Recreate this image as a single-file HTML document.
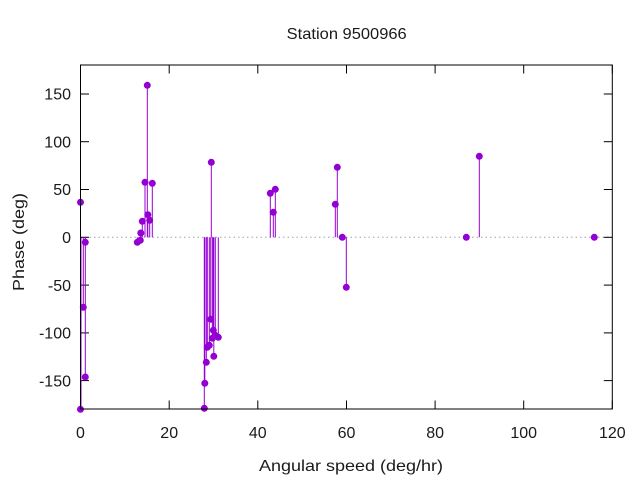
<!DOCTYPE html>
<html><head><meta charset="utf-8"><style>
html,body{margin:0;padding:0;background:#fff;}
svg{display:block;}
text{font-family:"Liberation Sans",sans-serif;font-size:16px;fill:#1a1a1a;}
</style></head><body>
<svg width="640" height="480" viewBox="0 0 640 480" xmlns="http://www.w3.org/2000/svg">
<rect width="640" height="480" fill="#fff"/>
<!-- zero axis -->
<line x1="80.5" y1="237.3" x2="612.3" y2="237.3" stroke="#a0a0a0" stroke-width="1" stroke-dasharray="1.5,3"/>
<!-- ticks -->
<g stroke="#000" stroke-width="1">
<line x1="80.5" y1="409" x2="80.5" y2="400.5"/><line x1="169.2" y1="409" x2="169.2" y2="400.5"/><line x1="257.8" y1="409" x2="257.8" y2="400.5"/><line x1="346.5" y1="409" x2="346.5" y2="400.5"/><line x1="435.1" y1="409" x2="435.1" y2="400.5"/><line x1="523.7" y1="409" x2="523.7" y2="400.5"/><line x1="612.3" y1="409" x2="612.3" y2="400.5"/>
<line x1="80.5" y1="65" x2="80.5" y2="73.5"/><line x1="169.2" y1="65" x2="169.2" y2="73.5"/><line x1="257.8" y1="65" x2="257.8" y2="73.5"/><line x1="346.5" y1="65" x2="346.5" y2="73.5"/><line x1="435.1" y1="65" x2="435.1" y2="73.5"/><line x1="523.7" y1="65" x2="523.7" y2="73.5"/><line x1="612.3" y1="65" x2="612.3" y2="73.5"/>
<line x1="80.5" y1="94" x2="89" y2="94"/><line x1="80.5" y1="141.7" x2="89" y2="141.7"/><line x1="80.5" y1="189.5" x2="89" y2="189.5"/><line x1="80.5" y1="237.3" x2="89" y2="237.3"/><line x1="80.5" y1="285.1" x2="89" y2="285.1"/><line x1="80.5" y1="332.9" x2="89" y2="332.9"/><line x1="80.5" y1="380.6" x2="89" y2="380.6"/>
<line x1="612.3" y1="94" x2="603.8" y2="94"/><line x1="612.3" y1="141.7" x2="603.8" y2="141.7"/><line x1="612.3" y1="189.5" x2="603.8" y2="189.5"/><line x1="612.3" y1="237.3" x2="603.8" y2="237.3"/><line x1="612.3" y1="285.1" x2="603.8" y2="285.1"/><line x1="612.3" y1="332.9" x2="603.8" y2="332.9"/><line x1="612.3" y1="380.6" x2="603.8" y2="380.6"/>
</g>
<!-- stems -->
<g stroke="#9400d3" stroke-width="1">
<line x1="80.5" y1="237.3" x2="80.5" y2="202.3"/>
<line x1="85.3" y1="237.3" x2="85.3" y2="242.3"/>
<line x1="83.3" y1="237.3" x2="83.3" y2="307.3"/>
<line x1="85.3" y1="237.3" x2="85.3" y2="377"/>
<line x1="81" y1="237.3" x2="81" y2="409"/>
<line x1="137.3" y1="237.3" x2="137.3" y2="242.3"/>
<line x1="140.3" y1="237.3" x2="140.3" y2="240.3"/>
<line x1="140.8" y1="237.3" x2="140.8" y2="233"/>
<line x1="142.3" y1="237.3" x2="142.3" y2="221.3"/>
<line x1="145" y1="237.3" x2="145" y2="182.3"/>
<line x1="147.3" y1="237.3" x2="147.3" y2="85.3"/>
<line x1="147.8" y1="237.3" x2="147.8" y2="214.7"/>
<line x1="149.7" y1="237.3" x2="149.7" y2="220.3"/>
<line x1="152.3" y1="237.3" x2="152.3" y2="183.3"/>
<line x1="204.3" y1="237.3" x2="204.3" y2="408.3"/>
<line x1="204.8" y1="237.3" x2="204.8" y2="383.3"/>
<line x1="206.3" y1="237.3" x2="206.3" y2="362.3"/>
<line x1="207.3" y1="237.3" x2="207.3" y2="347.3"/>
<line x1="209.3" y1="237.3" x2="209.3" y2="345.3"/>
<line x1="210.7" y1="237.3" x2="210.7" y2="319.3"/>
<line x1="211.3" y1="237.3" x2="211.3" y2="162.3"/>
<line x1="213.3" y1="237.3" x2="213.3" y2="330.3"/>
<line x1="212.3" y1="237.3" x2="212.3" y2="338.3"/>
<line x1="213.8" y1="237.3" x2="213.8" y2="356.3"/>
<line x1="215.3" y1="237.3" x2="215.3" y2="335.3"/>
<line x1="218.3" y1="237.3" x2="218.3" y2="337.3"/>
<line x1="270.3" y1="237.3" x2="270.3" y2="193.3"/>
<line x1="275.3" y1="237.3" x2="275.3" y2="189.3"/>
<line x1="273.3" y1="237.3" x2="273.3" y2="212.3"/>
<line x1="337.3" y1="237.3" x2="337.3" y2="167.3"/>
<line x1="335.3" y1="237.3" x2="335.3" y2="204.3"/>
<line x1="346.3" y1="237.3" x2="346.3" y2="287.3"/>
<line x1="479.3" y1="237.3" x2="479.3" y2="156.3"/>
</g>
<!-- points -->
<g fill="#9400d3">
<circle cx="80.5" cy="202.3" r="3.5"/><circle cx="85.3" cy="242.3" r="3.5"/><circle cx="83.3" cy="307.3" r="3.5"/><circle cx="85.3" cy="377" r="3.5"/><circle cx="80.5" cy="409.3" r="3.5"/>
<circle cx="137.3" cy="242.3" r="3.5"/><circle cx="140.3" cy="240.3" r="3.5"/><circle cx="140.8" cy="233" r="3.5"/><circle cx="142.3" cy="221.3" r="3.5"/><circle cx="145" cy="182.3" r="3.5"/><circle cx="147.3" cy="85.3" r="3.5"/><circle cx="147.8" cy="214.7" r="3.5"/><circle cx="149.7" cy="220.3" r="3.5"/><circle cx="152.3" cy="183.3" r="3.5"/>
<circle cx="204.3" cy="408.3" r="3.5"/><circle cx="204.8" cy="383.3" r="3.5"/><circle cx="206.3" cy="362.3" r="3.5"/><circle cx="207.3" cy="347.3" r="3.5"/><circle cx="209.3" cy="345.3" r="3.5"/><circle cx="210.7" cy="319.3" r="3.5"/><circle cx="211.3" cy="162.3" r="3.5"/><circle cx="213.3" cy="330.3" r="3.5"/><circle cx="212.3" cy="338.3" r="3.5"/><circle cx="213.8" cy="356.3" r="3.5"/><circle cx="215.3" cy="335.3" r="3.5"/><circle cx="218.3" cy="337.3" r="3.5"/>
<circle cx="270.3" cy="193.3" r="3.5"/><circle cx="275.3" cy="189.3" r="3.5"/><circle cx="273.3" cy="212.3" r="3.5"/>
<circle cx="337.3" cy="167.3" r="3.5"/><circle cx="335.3" cy="204.3" r="3.5"/><circle cx="342.3" cy="237.3" r="3.5"/><circle cx="346.3" cy="287.3" r="3.5"/>
<circle cx="466.3" cy="237.3" r="3.5"/><circle cx="479.3" cy="156.3" r="3.5"/><circle cx="594.3" cy="237.3" r="3.5"/>
</g>
<!-- border -->
<rect x="80.5" y="65" width="531.8" height="344" fill="none" stroke="#000" stroke-width="1"/>
<!-- x tick labels -->
<g text-anchor="middle">
<text x="80.5" y="438">0</text><text x="169.2" y="438">20</text><text x="257.8" y="438">40</text><text x="346.5" y="438">60</text><text x="435.1" y="438">80</text><text x="523.7" y="438">100</text><text x="612.3" y="438">120</text>
</g>
<!-- y tick labels -->
<g text-anchor="end">
<text x="71" y="99.7">150</text><text x="71" y="147.4">100</text><text x="71" y="195.2">50</text><text x="71" y="243">0</text><text x="71" y="290.8">-50</text><text x="71" y="338.6">-100</text><text x="71" y="386.3">-150</text>
</g>
<text x="286.7" y="39" textLength="120" lengthAdjust="spacingAndGlyphs">Station 9500966</text>
<text x="259" y="471" textLength="184" lengthAdjust="spacingAndGlyphs">Angular speed (deg/hr)</text>
<text transform="translate(24,291) rotate(-90)" x="0" y="0" textLength="98" lengthAdjust="spacingAndGlyphs">Phase (deg)</text>
</svg>
</body></html>
